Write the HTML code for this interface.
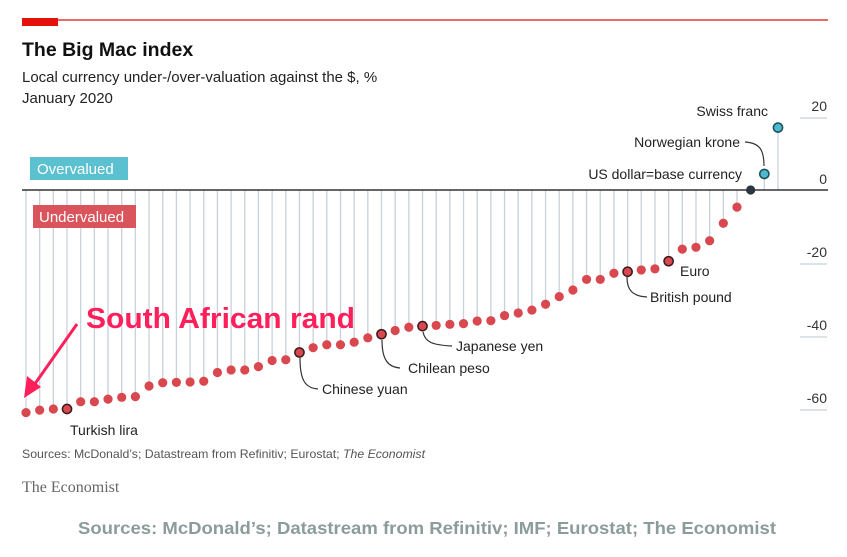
<!DOCTYPE html>
<html><head><meta charset="utf-8"><style>
body{margin:0;background:#fff;width:847px;height:552px;overflow:hidden;font-family:"Liberation Sans",sans-serif}
svg text{font-family:"Liberation Sans",sans-serif}
</style></head><body>
<svg id="chart" width="847" height="552" viewBox="0 0 847 552" xmlns="http://www.w3.org/2000/svg">
<rect x="22" y="18" width="36" height="8" fill="#e3120b"/>
<line x1="22" y1="20" x2="828" y2="20" stroke="#e3120b" stroke-width="1.2"/>
<text x="22" y="56" font-size="19.5" font-weight="bold" fill="#111">The Big Mac index</text>
<text x="22" y="82" font-size="15" fill="#222">Local currency under-/over-valuation against the $, %</text>
<text x="22" y="103" font-size="15" fill="#222">January 2020</text>
<g id="stems"></g>
<line x1="22" y1="190" x2="828" y2="190" stroke="#333" stroke-width="1.5"/>
<g id="yaxis"></g>
<rect x="30" y="157" width="98" height="23" fill="#5bc0cf"/>
<text x="37" y="174" font-size="15" fill="#fff">Overvalued</text>
<rect x="33" y="205" width="103" height="23" fill="#d9545b"/>
<text x="39" y="222" font-size="15" fill="#fff">Undervalued</text>
<g id="leaders" fill="none" stroke="#333" stroke-width="1.2">
<path d="M300 358 C300 380,305 388,318 389"/>
<path d="M382 340 C382 360,388 367,400 368"/>
<path d="M423 332 C425 342,432 345,452 346"/>
<path d="M627 277 C627 290,632 296,647 297"/>
<path d="M745 142 C760 143,764 150,764 166"/>
</g>
<g id="dots"></g>
<g font-size="14" fill="#222">
<text x="70" y="435">Turkish lira</text>
<text x="322" y="394">Chinese yuan</text>
<text x="408" y="373">Chilean peso</text>
<text x="456" y="351">Japanese yen</text>
<text x="650" y="302">British pound</text>
<text x="680" y="276">Euro</text>
<text x="742" y="179" text-anchor="end">US dollar=base currency</text>
<text x="740" y="147" text-anchor="end">Norwegian krone</text>
<text x="768" y="116" text-anchor="end">Swiss franc</text>
</g>
<text x="86" y="328" font-size="29" font-weight="bold" fill="#ff1f5a" textLength="269" lengthAdjust="spacingAndGlyphs">South African rand</text>
<line x1="77" y1="324" x2="32" y2="388" stroke="#ff1f5a" stroke-width="3"/>
<polygon points="24,398 27,376 41,387" fill="#ff1f5a"/>
<text x="22" y="458" font-size="12" fill="#555" textLength="403" lengthAdjust="spacingAndGlyphs">Sources: McDonald’s; Datastream from Refinitiv; Eurostat; <tspan font-style="italic">The Economist</tspan></text>
<text x="22" y="492" font-size="16" fill="#666" style="font-family:'Liberation Serif',serif">The Economist</text>
<text x="427" y="534" font-size="17.5" font-weight="bold" fill="#8c9b9b" text-anchor="middle" textLength="698" lengthAdjust="spacingAndGlyphs">Sources: McDonald’s; Datastream from Refinitiv; IMF; Eurostat; The Economist</text>
</svg>
<script>
const values = [-61,-60.3,-60,-60,-58,-58,-57.3,-56.8,-56.6,-53.7,-52.8,-52.7,-52.6,-52.4,-50,-49.3,-49.3,-48.4,-46.7,-46.5,-44.5,-43.2,-42.4,-42.4,-41.7,-40.5,-39.5,-38.5,-37.6,-37.3,-37.1,-36.8,-36.6,-35.9,-35.8,-34.4,-33.7,-32.9,-31.3,-29.2,-27.4,-24.5,-24.5,-22.8,-22.4,-21.9,-21.6,-19.5,-16.2,-15.7,-13.9,-9.1,-4.7,0,4.4,17.1];
const highlighted = [3,20,26,29,44,47];
const yTicks = [20,0,-20,-40,-60];
const NS='http://www.w3.org/2000/svg';
function xs(i){return 26 + i*(752/(values.length-1));}
function ys(v){return 190 - v*3.65;}
const stems=document.getElementById('stems'), dots=document.getElementById('dots'), ya=document.getElementById('yaxis');
values.forEach((v,i)=>{
  const l=document.createElementNS(NS,'line');
  
  
  l.setAttribute('x1',xs(i));l.setAttribute('x2',xs(i));
  l.setAttribute('y1',190);l.setAttribute('y2',ys(v));
  l.setAttribute('stroke','#c8d2db');l.setAttribute('stroke-width','1.3');
  stems.appendChild(l);
  const c=document.createElementNS(NS,'circle');
  
  
  c.setAttribute('cx',xs(i));c.setAttribute('cy',ys(v));c.setAttribute('r',4.6);
  let fill = v>0.5 ? '#4fb8cc' : (Math.abs(v)<0.5 ? '#2b3640' : '#d9474f');
  c.setAttribute('fill',fill);
  if(highlighted.includes(i) || v>0.5){c.setAttribute('stroke', v>0.5?'#1d4f5a':'#3a1a1a');c.setAttribute('stroke-width','1.5');}
  dots.appendChild(c);
});
yTicks.forEach(t=>{
  const tx=document.createElementNS(NS,'text');
  
  
  tx.setAttribute('x',827);tx.setAttribute('y',ys(t)-6);
  tx.setAttribute('text-anchor','end');tx.setAttribute('font-size','14');tx.setAttribute('fill','#333');
  tx.textContent = t;
  ya.appendChild(tx);
  if(t!==0){
    const l=document.createElementNS(NS,'line');
    
    
    l.setAttribute('x1',800);l.setAttribute('x2',827);l.setAttribute('y1',ys(t)+1);l.setAttribute('y2',ys(t)+1);
    l.setAttribute('stroke','#c8d2db');l.setAttribute('stroke-width','1.2');
    ya.appendChild(l);
  }
});
</script>
</body></html>
